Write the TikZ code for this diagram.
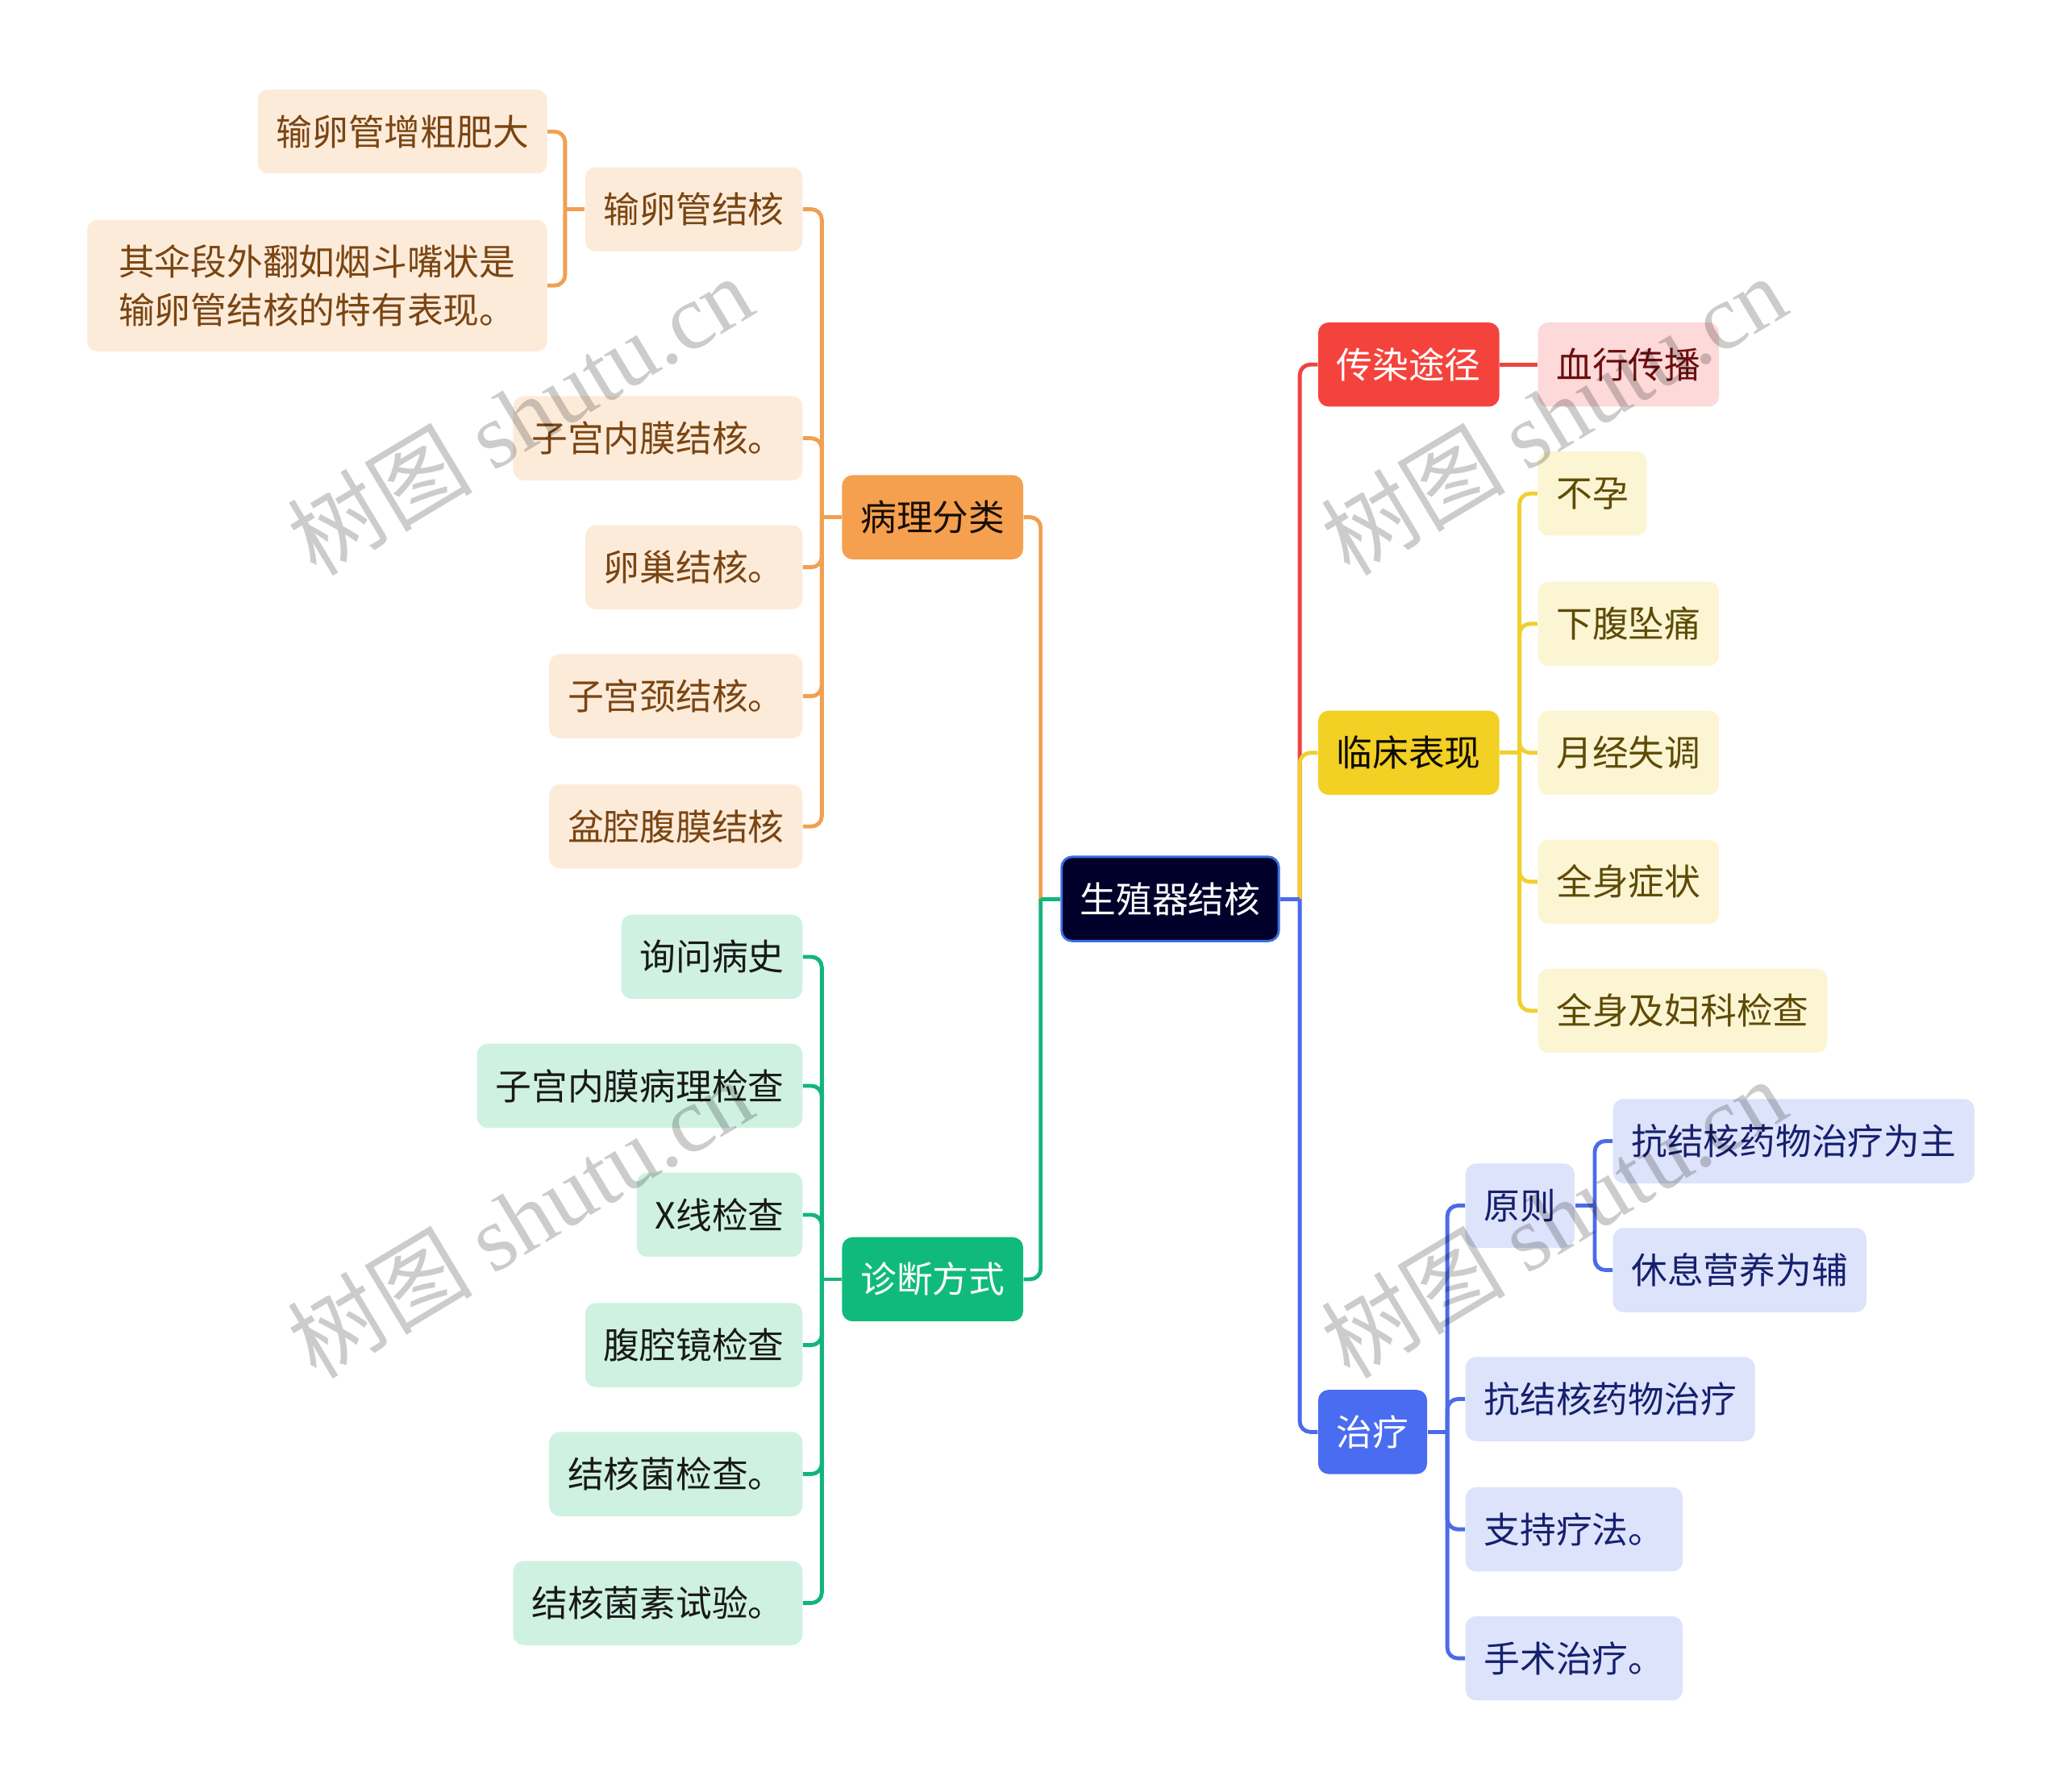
\documentclass[tikz,border=0pt]{standalone}
\usepackage{fontspec}
\setmainfont{Noto Sans CJK SC}
\newfontfamily\wmlatin{Liberation Serif}
\usetikzlibrary{positioning}
\definecolor{orM}{HTML}{F5A04F}
\definecolor{orL}{HTML}{FDEBDA}
\definecolor{orT}{HTML}{7A4512}
\definecolor{orC}{HTML}{F0A050}
\definecolor{grM}{HTML}{10BA7C}
\definecolor{grL}{HTML}{CFF1E2}
\definecolor{grC}{HTML}{12B57A}
\definecolor{rdM}{HTML}{F4433C}
\definecolor{rdL}{HTML}{FDD9D9}
\definecolor{rdT}{HTML}{6D0E0E}
\definecolor{rdC}{HTML}{EE4440}
\definecolor{ylM}{HTML}{F2D024}
\definecolor{ylL}{HTML}{FCF5D4}
\definecolor{ylT}{HTML}{5E4B05}
\definecolor{ylC}{HTML}{F0D030}
\definecolor{blM}{HTML}{4A6CF0}
\definecolor{blL}{HTML}{DDE3FB}
\definecolor{blT}{HTML}{16206E}
\definecolor{blC}{HTML}{4B6BE8}
\definecolor{rootF}{HTML}{00002A}
\definecolor{rootB}{HTML}{3A6FE0}
\newcommand{\fsz}{\fontsize{15.6pt}{21pt}\selectfont}
\begin{document}
\begin{tikzpicture}[x=0.02cm,y=-0.02cm,
  base/.style={rounded corners=0.16cm, minimum height=1.28cm, inner xsep=0.28cm, inner ysep=0pt, font=\fsz},
  rootbox/.style={base, fill=rootF, draw=rootB, line width=1pt, text=white},
  orMain/.style={base, fill=orM, text=black!80!orT},
  orLeaf/.style={base, fill=orL, text=orT},
  grMain/.style={base, fill=grM, text=white},
  grLeaf/.style={base, fill=grL, text=black!90},
  rdMain/.style={base, fill=rdM, text=white},
  rdLeaf/.style={base, fill=rdL, text=rdT},
  ylMain/.style={base, fill=ylM, text=black!85!ylT},
  ylLeaf/.style={base, fill=ylL, text=ylT},
  blMain/.style={base, fill=blM, text=white},
  blLeaf/.style={base, fill=blL, text=blT},
  conn/.style={line width=1.7pt, rounded corners=0.16cm},
  wm/.style={rotate=31, text=black, text opacity=0.2, font=\fontsize{40pt}{40pt}\selectfont}
]
\useasboundingbox (0,0) rectangle (1568,1361);

% root
\node[rootbox] (root) at (889,683) {生殖器结核};

% orange branch
\node[orMain] (bl) at (708.5,393) {病理分类};
\node[orLeaf, anchor=east] (o1) at (610,159) {输卵管结核};
\node[orLeaf, anchor=east] (o1a) at (416,100) {输卵管增粗肥大};
\node[orLeaf, anchor=east, align=left, minimum height=2cm, inner xsep=0.48cm] (o1b) at (416,217) {其伞段外翻如烟斗嘴状是\\输卵管结核的特有表现。};
\node[orLeaf, anchor=east] (o2) at (610,333) {子宫内膜结核。};
\node[orLeaf, anchor=east] (o3) at (610,431) {卵巢结核。};
\node[orLeaf, anchor=east] (o4) at (610,529) {子宫颈结核。};
\node[orLeaf, anchor=east] (o5) at (610,628) {盆腔腹膜结核};

% green branch
\node[grMain] (zd) at (708.5,972) {诊断方式};
\node[grLeaf, anchor=east] (g1) at (610,727) {询问病史};
\node[grLeaf, anchor=east] (g2) at (610,825) {子宫内膜病理检查};
\node[grLeaf, anchor=east] (g3) at (610,923) {X线检查};
\node[grLeaf, anchor=east] (g4) at (610,1022) {腹腔镜检查};
\node[grLeaf, anchor=east] (g5) at (610,1120) {结核菌检查。};
\node[grLeaf, anchor=east] (g6) at (610,1218) {结核菌素试验。};

% red branch
\node[rdMain, anchor=west] (cr) at (1001,277) {传染途径};
\node[rdLeaf, anchor=west] (r1) at (1168,277) {血行传播};

% yellow branch
\node[ylMain, anchor=west] (lc) at (1001,572) {临床表现};
\node[ylLeaf, anchor=west] (y1) at (1168,375) {不孕};
\node[ylLeaf, anchor=west] (y2) at (1168,474) {下腹坠痛};
\node[ylLeaf, anchor=west] (y3) at (1168,572) {月经失调};
\node[ylLeaf, anchor=west] (y4) at (1168,670) {全身症状};
\node[ylLeaf, anchor=west] (y5) at (1168,768) {全身及妇科检查};

% blue branch
\node[blMain, anchor=west] (zl) at (1001,1088) {治疗};
\node[blLeaf, anchor=west] (b1) at (1113,916) {原则};
\node[blLeaf, anchor=west] (b1a) at (1225,867) {抗结核药物治疗为主};
\node[blLeaf, anchor=west] (b1b) at (1225,965) {休息营养为辅};
\node[blLeaf, anchor=west] (b2) at (1113,1063) {抗结核药物治疗};
\node[blLeaf, anchor=west] (b3) at (1113,1162) {支持疗法。};
\node[blLeaf, anchor=west] (b4) at (1113,1260) {手术治疗。};

% junction coordinates
\coordinate (rootL) at ([xshift=-0.3cm]root.west);
\coordinate (rootR) at ([xshift=0.3cm]root.east);
\coordinate (blL) at ([xshift=-0.3cm]bl.west);
\coordinate (o1L) at ([xshift=-0.3cm]o1.west);
\coordinate (zdL) at ([xshift=-0.3cm]zd.west);
\coordinate (lcR) at ([xshift=0.3cm]lc.east);
\coordinate (zlR) at ([xshift=0.3cm]zl.east);
\coordinate (b1R) at ([xshift=0.3cm]b1.east);

% connectors: root
\draw[conn, orC] (rootL) |- (bl.east);
\draw[conn, grC] (rootL) |- (zd.east);
\draw[conn, grC] (root.west) -- (rootL);
\draw[conn, rdC] (rootR) |- (cr.west);
\draw[conn, ylC] (rootR) |- (lc.west);
\draw[conn, blC] (rootR) |- (zl.west);
\draw[conn, blC] (root.east) -- (rootR);

% orange
\draw[conn, orC] (bl.west) -- (blL);
\foreach \c in {o1,o2,o3,o4,o5} \draw[conn, orC] (blL) |- (\c.east);
\draw[conn, orC] (o1.west) -- (o1L);
\foreach \c in {o1a,o1b} \draw[conn, orC] (o1L) |- (\c.east);

% green
\draw[conn, grC] (zd.west) -- (zdL);
\foreach \c in {g1,g2,g3,g4,g5,g6} \draw[conn, grC] (zdL) |- (\c.east);

% red
\draw[conn, rdC] (cr.east) -- (r1.west);

% yellow
\draw[conn, ylC] (lc.east) -- (lcR);
\foreach \c in {y1,y2,y3,y4,y5} \draw[conn, ylC] (lcR) |- (\c.west);

% blue
\draw[conn, blC] (zl.east) -- (zlR);
\foreach \c in {b1,b2,b3,b4} \draw[conn, blC] (zlR) |- (\c.west);
\draw[conn, blC] (b1.east) -- (b1R);
\foreach \c in {b1a,b1b} \draw[conn, blC] (b1R) |- (\c.west);

% watermarks
\node[wm] (wm1) at (395,315) {树图 {\wmlatin shutu.cn}};
\node[wm] (wm2) at (1180,315) {树图 {\wmlatin shutu.cn}};
\node[wm] (wm3) at (395,925) {树图 {\wmlatin shutu.cn}};
\node[wm] (wm4) at (1180,925) {树图 {\wmlatin shutu.cn}};
\end{tikzpicture}
\end{document}
